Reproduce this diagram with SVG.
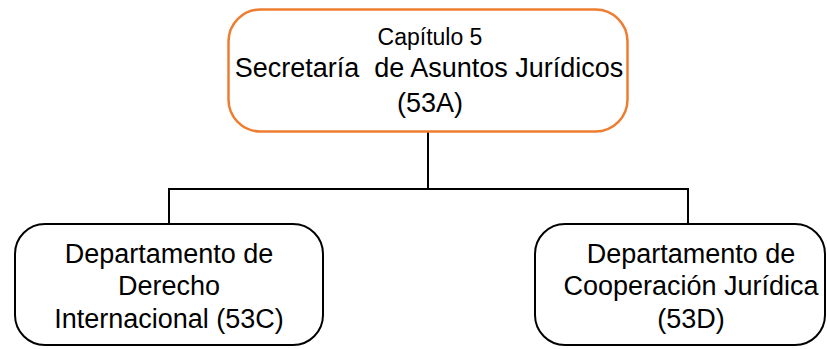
<svg xmlns="http://www.w3.org/2000/svg" width="827" height="349" viewBox="0 0 827 349">
<style>
.box{fill:#ffffff;stroke:#000000;stroke-width:2}
.top{fill:#ffffff;stroke:#ED7D31;stroke-width:2.5}
.t{font-family:"Liberation Sans",Arial,sans-serif;font-size:27px;fill:#000000;text-anchor:middle}
.s{font-size:23px}
.c{fill:none;stroke:#000000;stroke-width:2}
</style>
<rect width="827" height="349" fill="#ffffff"/>
<g id="connectors">
<path class="c" d="M428,132 V189 M169,189 H688 M169,188 V224 M688,188 V224"/>
</g>
<g id="n53A">
<rect class="top" x="228.5" y="9.5" width="399" height="122" rx="32"/>
<text class="t s" x="430" y="45">Capítulo 5</text>
<text class="t" x="429" y="77" xml:space="preserve">Secretaría  de Asuntos Jurídicos</text>
<text class="t" x="430" y="112">(53A)</text>
</g>
<g id="n53C">
<rect class="box" x="15" y="224" width="308" height="121" rx="30"/>
<text class="t" x="169" y="263">Departamento de</text>
<text class="t" x="169" y="295">Derecho</text>
<text class="t" x="169" y="328">Internacional (53C)</text>
</g>
<g id="n53D">
<rect class="box" x="535" y="224" width="290" height="121" rx="30"/>
<text class="t" x="691" y="263">Departamento de</text>
<text class="t" x="691" y="295">Cooperación Jurídica</text>
<text class="t" x="691" y="328">(53D)</text>
</g>
</svg>
